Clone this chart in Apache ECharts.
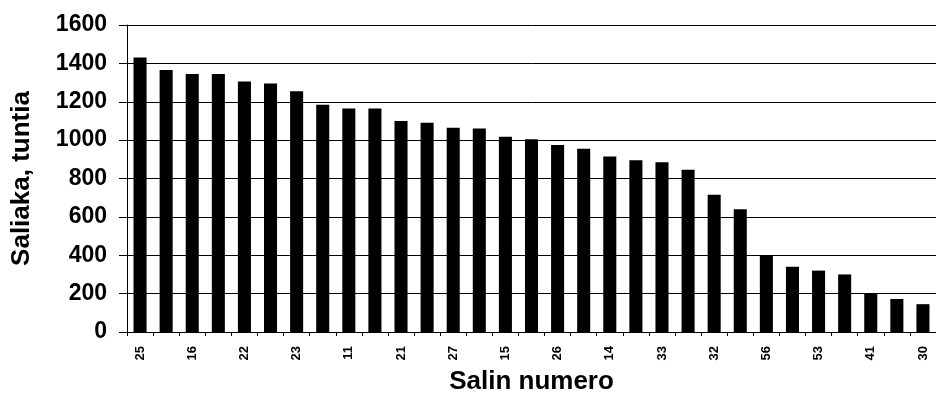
<!DOCTYPE html>
<html>
<head>
<meta charset="utf-8">
<script src="https://cdn.jsdelivr.net/npm/echarts@6/dist/echarts.min.js"></script>
<style>html,body{margin:0;padding:0;background:#fff}#c{width:936px;height:402px}</style>
</head>
<body>
<div id="c"></div>
<script>
var categories = ['25','','16','','22','','23','','11','','21','','27','','15','','26','','14','','33','','32','','56','','53','','41','','30'];
var values = [1430,1365,1345,1345,1305,1295,1255,1185,1165,1165,1100,1090,1065,1060,1018,1005,975,955,915,895,885,845,715,640,400,340,320,300,200,172,145];
var yTicks = [0,200,400,600,800,1000,1200,1400,1600];
var yTitle = 'Saliaka, tuntia';
var xTitle = 'Salin numero';

var chart = echarts.init(document.getElementById('c'), null, {renderer:'canvas'});
var font = 'Liberation Sans, Arial, sans-serif';
chart.setOption({
  animation:false,
  backgroundColor:'#fff',
  grid:{left:127,right:0,top:25,bottom:70,containLabel:false},
  xAxis:{
    type:'category',
    data:categories,
    name:xTitle,
    nameLocation:'middle',
    nameGap:37,
    nameTextStyle:{fontFamily:font,fontWeight:'bold',fontSize:26,color:'#000'},
    axisLine:{lineStyle:{color:'#000',width:1}},
    axisTick:{show:true,interval:0,length:4,lineStyle:{color:'#000'}},
    axisLabel:{interval:0,rotate:90,margin:14,fontFamily:font,fontWeight:'bold',fontSize:13,color:'#000'}
  },
  yAxis:{
    type:'value',
    min:yTicks[0],
    max:yTicks[yTicks.length-1],
    interval:yTicks[1]-yTicks[0],
    name:yTitle,
    nameLocation:'middle',
    nameGap:92,
    nameTextStyle:{fontFamily:font,fontWeight:'bold',fontSize:26,color:'#000'},
    axisLine:{show:true,lineStyle:{color:'#000',width:1}},
    axisTick:{show:true,length:8,lineStyle:{color:'#000'}},
    axisLabel:{margin:20,fontFamily:font,fontWeight:'bold',fontSize:23,color:'#000',formatter:function(v){return String(v);}},
    splitLine:{show:true,lineStyle:{color:'#000',width:1}}
  },
  series:[{
    type:'bar',
    data:values,
    barCategoryGap:'50%',
    itemStyle:{color:'#000'}
  }]
});
</script>
</body>
</html>
